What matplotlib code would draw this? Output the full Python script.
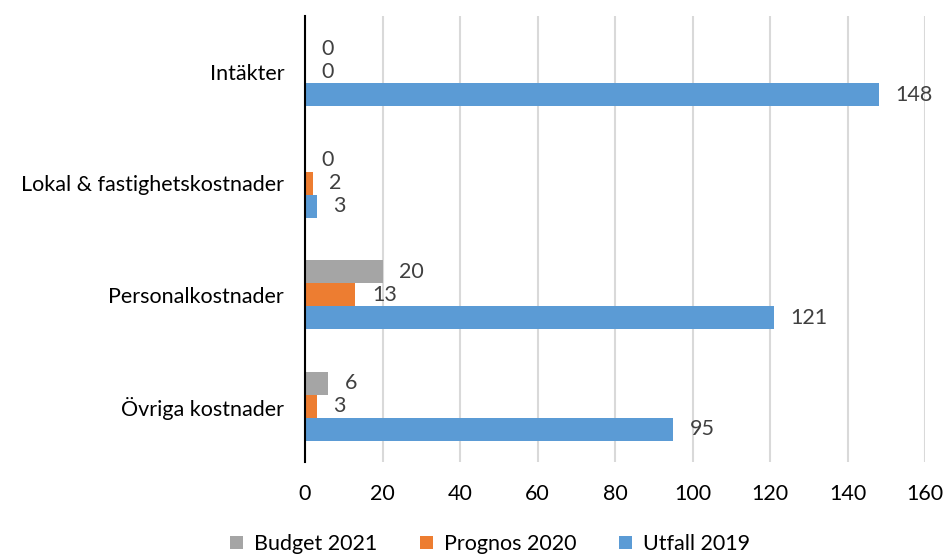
import matplotlib.pyplot as plt
import numpy as np

categories = ['Intäkter', 'Lokal & fastighetskostnader', 'Personalkostnader', 'Övriga kostnader']
budget_2021 = [0, 0, 20, 6]
prognos_2020 = [0, 2, 13, 3]
utfall_2019 = [148, 3, 121, 95]
series_names = ['Budget 2021', 'Prognos 2020', 'Utfall 2019']
colors = ['#A5A5A5', '#ED7D31', '#5B9BD5']
x_ticks = [0, 20, 40, 60, 80, 100, 120, 140, 160]

plt.rcParams['font.family'] = ['Lato', 'DejaVu Sans']

fig = plt.figure(figsize=(9.46, 5.56), dpi=100)
ax = fig.add_axes([305 / 946, 1 - 462 / 556, 620 / 946, 446 / 556])

y = np.arange(len(categories))
h = 0.205
offsets = [-h, 0, h]
for vals, off, col, name in zip([budget_2021, prognos_2020, utfall_2019], offsets, colors, series_names):
    bars = ax.barh(y + off, vals, height=h, color=col, label=name, zorder=3)
    for b, v in zip(bars, vals):
        ax.annotate(str(v), (b.get_width(), b.get_y() + b.get_height() / 2),
                    xytext=(12, 0), textcoords='offset points', va='center', ha='left',
                    fontsize=15.5, color='#404040', zorder=4)

ax.set_ylim(len(categories) - 0.5, -0.5)
ax.set_xlim(0, 160)
ax.set_xticks(x_ticks)
ax.set_yticks(y)
ax.set_yticklabels(categories)
ax.tick_params(axis='both', length=0, labelsize=15.5, colors='black')
ax.tick_params(axis='x', pad=16)
ax.tick_params(axis='y', pad=15)
ax.grid(axis='x', color='#D9D9D9', linewidth=1.5, zorder=0)
for s in ['top', 'right', 'bottom']:
    ax.spines[s].set_visible(False)
ax.spines['left'].set_color('black')
ax.spines['left'].set_linewidth(1.5)
ax.spines['left'].set_zorder(5)

fig.legend(loc='center', bbox_to_anchor=(490 / 946, 1 - 544 / 556), ncol=3, frameon=False,
           fontsize=15.5, handlelength=0.6, handleheight=0.6, columnspacing=2.0, handletextpad=0.5)

fig.savefig('out.png', dpi=100)
